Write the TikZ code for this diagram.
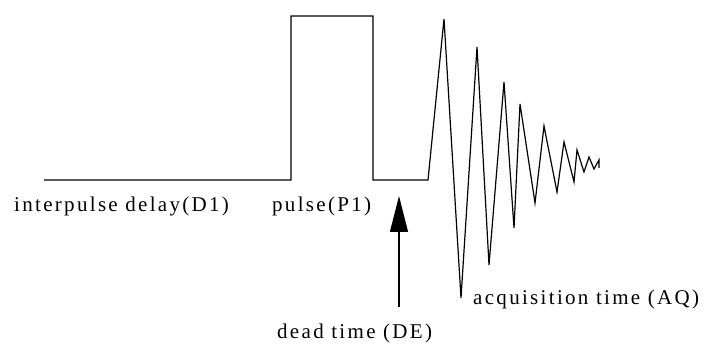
\documentclass[tikz,border=0pt]{standalone}
\usepackage{fontspec}
\setmainfont{Liberation Serif}[LetterSpace=11]
\usetikzlibrary{arrows.meta}
\begin{document}
\begin{tikzpicture}[x=1pt,y=-1pt,
  wave/.style={line width=1.2pt,line join=miter},
  lbl/.style={font=\fontsize{21}{24}\selectfont,inner sep=0pt,anchor=base west},
  bigarrow/.style={line width=1.2pt,-{Triangle[length=36pt,width=18pt]}}]
\useasboundingbox (0,0) rectangle (704,352);
% waveform
\coordinate (s) at (44,180);
\coordinate (pu) at (291,180);
\coordinate (pd) at (373,180);
\coordinate (f0) at (428,180);
\draw[wave] (s) -- (pu) -- (291,16) -- (373,16) -- (pd) -- (f0)
  -- (444,19) -- (461,298) -- (477,47) -- (489,265) -- (504,82)
  -- (514,228) -- (520,104) -- (535,203) -- (544,126) -- (557,192)
  -- (564,142) -- (574,182) -- (577,150) -- (584,172) -- (589,157)
  -- (594,169) -- (599,160) -- (599,168);
% labels
\node[lbl] (d1) at (14,212) {interpulse delay(D1)};
\node[lbl] (p1) at (272,212) {pulse(P1)};
\node[lbl] (aq) at (473,305) {acquisition time (AQ)};
\node[lbl] (de) at (277,339) {dead time (DE)};
% dead time arrow
\coordinate (ab) at (399,307);
\coordinate (at) at (399,196);
\draw[bigarrow] (ab) -- (at);
\end{tikzpicture}
\end{document}
